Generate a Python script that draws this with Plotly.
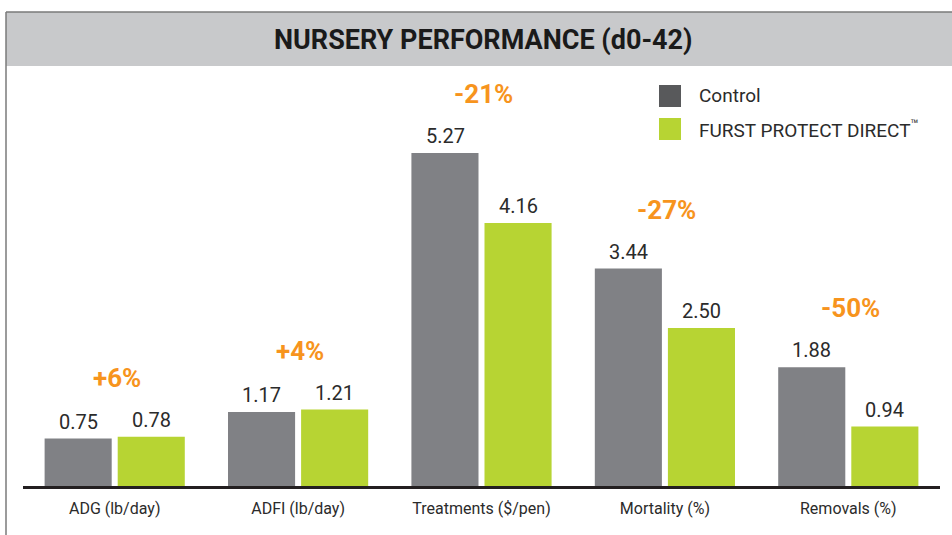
import plotly.graph_objects as go

categories = ["ADG (lb/day)", "ADFI (lb/day)", "Treatments ($/pen)", "Mortality (%)", "Removals (%)"]
control = [0.75, 1.17, 5.27, 3.44, 1.88]
furst = [0.78, 1.21, 4.16, 2.50, 0.94]
pct_change = ["+6%", "+4%", "-21%", "-27%", "-50%"]
series_names = ["Control", "FURST PROTECT DIRECT<sup>™</sup>"]

GRAY = "#808185"
GREEN = "#B7D433"
ORANGE = "#F7941D"
FONT = "Roboto, Liberation Sans, sans-serif"

W, H = 952, 535
L, R, T, B = 23, 12, 70, 49
pw, ph = W - L - R, H - T - B

def px_x(px):
    return (px - L) / pw

def px_y(py):
    return (H - B - py) / ph

fig = go.Figure()
fig.add_trace(go.Bar(x=categories, y=control, name=series_names[0], marker_color=GRAY,
                     marker_line_width=0, showlegend=False))
fig.add_trace(go.Bar(x=categories, y=furst, name=series_names[1], marker_color=GREEN,
                     marker_line_width=0, showlegend=False))

annotations = []
for i, c in enumerate(categories):
    for val, shift in ((control[i], -36.5), (furst[i], 36.5)):
        annotations.append(dict(x=c, y=val, xref="x", yref="y", text=f"{val:.2f}",
                                showarrow=False, xshift=shift, yanchor="bottom", yshift=3,
                                font=dict(family=FONT, size=20, color="#2b2b2b")))
    annotations.append(dict(x=c, y=max(control[i], furst[i]), xref="x", yref="y",
                            text=f"<b>{pct_change[i]}</b>", showarrow=False, xshift=2,
                            yanchor="bottom", yshift=42,
                            font=dict(family=FONT, size=26, color=ORANGE)))

# title
annotations.append(dict(x=px_x(484), y=px_y(40), xref="paper", yref="paper",
                        text="<b>NURSERY PERFORMANCE (d0-42)</b>", showarrow=False,
                        xanchor="center", yanchor="middle",
                        font=dict(family=FONT, size=27, color="#1a1a1a")))

# legend text
for name, yy in zip(series_names, (95, 129)):
    annotations.append(dict(x=px_x(697), y=px_y(yy), xref="paper", yref="paper",
                            text=name, showarrow=False, xanchor="left", yanchor="middle",
                            font=dict(family=FONT, size=19, color="#2b2b2b")))

shapes = [
    # title bar
    dict(type="rect", xref="paper", yref="paper", x0=px_x(6), x1=px_x(960),
         y0=px_y(66), y1=px_y(12), fillcolor="#C8C9CB", line_width=0, layer="below"),
    # top border
    dict(type="line", xref="paper", yref="paper", x0=px_x(6), x1=px_x(960),
         y0=px_y(12), y1=px_y(12), line=dict(color="#7a7a7a", width=1.5)),
    # left border
    dict(type="line", xref="paper", yref="paper", x0=px_x(6), x1=px_x(6),
         y0=px_y(12), y1=px_y(540), line=dict(color="#7a7a7a", width=1.5)),
    # legend swatches
    dict(type="rect", xref="paper", yref="paper", x0=px_x(659), x1=px_x(681),
         y0=px_y(107), y1=px_y(85), fillcolor="#58595B", line_width=0),
    dict(type="rect", xref="paper", yref="paper", x0=px_x(659), x1=px_x(681),
         y0=px_y(140), y1=px_y(118), fillcolor=GREEN, line_width=0),
]

fig.update_layout(
    width=W, height=H,
    margin=dict(l=L, r=R, t=T, b=B, pad=0),
    paper_bgcolor="white", plot_bgcolor="white",
    barmode="group", bargap=0.203, bargroupgap=0.082,
    annotations=annotations, shapes=shapes,
    font=dict(family=FONT, color="#333333"),
)
fig.update_xaxes(showline=True, linecolor="#231F20", linewidth=3, ticks="",
                 ticklabelstandoff=6,
                 tickfont=dict(family=FONT, size=16, color="#2b2b2b"),
                 showgrid=False, zeroline=False)
fig.update_yaxes(range=[0, ph / 63.2], visible=False, showgrid=False, zeroline=False)

fig.write_html("out.html")
